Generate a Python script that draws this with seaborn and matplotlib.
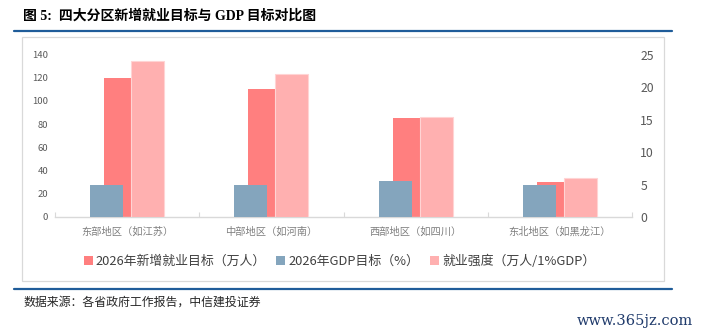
import numpy as np
import pandas as pd
import matplotlib
matplotlib.use("Agg")
import matplotlib.pyplot as plt
from matplotlib.patches import Patch, Rectangle
from matplotlib.lines import Line2D
import seaborn as sns

# ---- data ----
regions = ["东部地区（如江苏）", "中部地区（如河南）", "西部地区（如四川）", "东北地区（如黑龙江）"]
jobs_target = [120, 110, 85, 30]          # 2026年新增就业目标（万人）
gdp_target = [5.0, 5.0, 5.5, 5.0]         # 2026年GDP目标（%）
jobs_intensity = [24.0, 22.0, 15.45, 6.0]  # 就业强度（万人/1%GDP）
left_ticks = [0, 20, 40, 60, 80, 100, 120, 140]
right_ticks = [0, 5, 10, 15, 20, 25]

series_names = ["2026年新增就业目标（万人）", "2026年GDP目标（%）", "就业强度（万人/1%GDP）"]

# ---- style ----
RED = "#FF7F7F"
BLUE = "#84A5BD"
PINK = "#FFB0B0"
NAVY = "#1F5C99"
GRID_GRAY = "#D9D9D9"

sns.set_style("white")
plt.rcParams["font.family"] = ["Noto Sans CJK SC", "DejaVu Sans"]
plt.rcParams["axes.unicode_minus"] = False

W, H = 701, 336
fig = plt.figure(figsize=(W / 100, H / 100), dpi=100)


def fx(x):
    return x / W


def fy(y):
    return 1 - y / H


# plot area
ax1 = fig.add_axes([fx(55), fy(217), fx(632) - fx(55), fy(54.5) - fy(217)])
ax2 = ax1.twinx()

idx = np.arange(len(regions))
red_off, red_w = -0.066, 0.1875
blue_off, blue_w = -0.142, 0.229
pink_off, pink_w = 0.142, 0.229

df_red = pd.DataFrame({"pos": idx + red_off, "val": jobs_target})
df_blue = pd.DataFrame({"pos": idx + blue_off, "val": gdp_target})
df_pink = pd.DataFrame({"pos": idx + pink_off, "val": jobs_intensity})

sns.barplot(data=df_red, x="pos", y="val", orient="x", native_scale=True,
            width=red_w, color=RED, saturation=1, linewidth=0,
            errorbar=None, ax=ax1)
sns.barplot(data=df_blue, x="pos", y="val", orient="x", native_scale=True,
            width=blue_w, color=BLUE, saturation=1, linewidth=0,
            errorbar=None, ax=ax2)
sns.barplot(data=df_pink, x="pos", y="val", orient="x", native_scale=True,
            width=pink_w, color=PINK, saturation=1, linewidth=0.8,
            edgecolor="#FFD4D4", errorbar=None, ax=ax2)

# axes limits and ticks
ax1.set_xlim(-0.5, len(regions) - 0.5)
ax1.set_ylim(0, 140)
ax2.set_ylim(0, 25)
ax1.set_yticks(left_ticks)
ax1.set_yticklabels([str(t) for t in left_ticks])
ax2.set_yticks(right_ticks)
ax2.set_yticklabels([str(t) for t in right_ticks])

ax1.set_xticks(idx)
ax1.set_xticklabels(regions)
ax1.set_xticks(np.arange(len(regions) + 1) - 0.5, minor=True)
ax1.tick_params(axis="x", which="major", length=0, pad=6.5,
                labelsize=7.4, labelcolor="#7F7F7F")
ax1.tick_params(axis="x", which="minor", direction="in", length=3.5,
                width=0.8, color=GRID_GRAY, bottom=True)
ax1.tick_params(axis="y", length=0, pad=5, labelsize=6.8, labelcolor="#595959")
ax2.tick_params(axis="y", length=0, pad=6, labelsize=8.8, labelcolor="#595959")

for a in (ax1, ax2):
    a.set_xlabel("")
    a.set_ylabel("")
    a.grid(False)
    for s in ("left", "right", "top"):
        a.spines[s].set_visible(False)
ax2.spines["bottom"].set_visible(False)
ax1.spines["bottom"].set_color(GRID_GRAY)
ax1.spines["bottom"].set_linewidth(1.0)

# legend
handles = [Patch(facecolor=c, edgecolor="none") for c in (RED, BLUE, PINK)]
fig.legend(handles, series_names, loc="center",
           bbox_to_anchor=(fx(339.5), fy(261)), ncol=3, frameon=False,
           fontsize=9.3, handlelength=0.7, handleheight=0.7,
           handletextpad=0.25, columnspacing=0.8, labelcolor="#404040",
           borderaxespad=0, borderpad=0)

# frame around the chart
fig.add_artist(Rectangle((fx(22), fy(281)), fx(664.3) - fx(22), fy(37.3) - fy(281),
                         transform=fig.transFigure, fill=False,
                         edgecolor="#D9D9D9", linewidth=0.9, zorder=0))

# rules above and below
for yy in (30.5, 289.3):
    fig.add_artist(Line2D([fx(14), fx(672)], [fy(yy), fy(yy)],
                          transform=fig.transFigure, color=NAVY, linewidth=1.6))

# title
fig.text(fx(23), fy(16), "图 5:  四大分区新增就业目标与 GDP 目标对比图",
         ha="left", va="center", fontsize=10, fontweight="bold", color="black",
         family=["Liberation Serif", "Noto Sans CJK SC"])

# source note
fig.text(fx(23), fy(302), "数据来源：各省政府工作报告，中信建投证券",
         ha="left", va="center", fontsize=8.6, color="#262626")

# site mark
fig.text(fx(693), fy(321), "www.365jz.com", ha="right", va="center",
         fontsize=10.5, color="#1F3A6B", family="DejaVu Serif")

fig.savefig("out.png", dpi=100, facecolor="white")
